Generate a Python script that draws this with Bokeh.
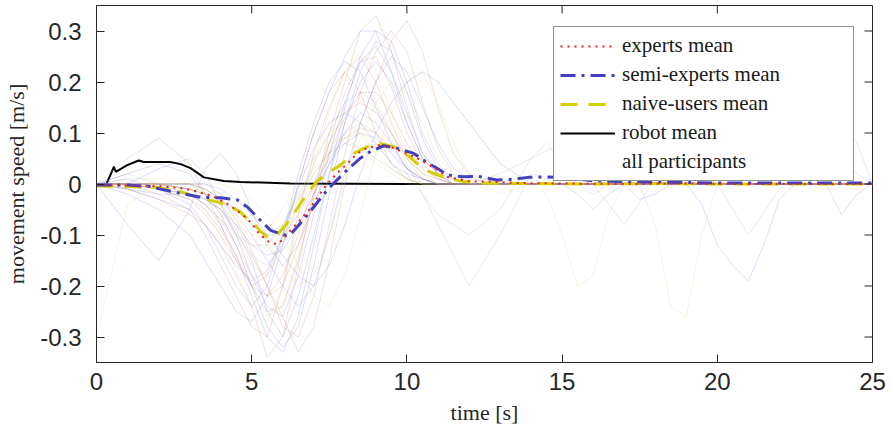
import math
from bokeh.plotting import figure
from bokeh.models import Range1d, FixedTicker, Legend, LegendItem
from bokeh.embed import file_html
from bokeh.resources import INLINE

# ---------------- data ----------------
x_ticks = [0, 5, 10, 15, 20, 25]
y_ticks = [-0.3, -0.2, -0.1, 0, 0.1, 0.2, 0.3]
y_tick_labels = ["-0.3", "-0.2", "-0.1", "0", "0.1", "0.2", "0.3"]

# experts mean
t_experts = [0, 1, 2, 2.7, 3.2, 3.75, 4.3, 4.7, 5.0, 5.2, 5.5, 5.8, 6.0, 6.25, 6.55,
             6.85, 7.1, 7.4, 7.75, 8.1, 8.4, 8.7, 9.1, 9.5, 10.0, 10.45, 10.9, 11.3,
             12.05, 12.7, 13.5, 15, 17, 19, 21, 23, 25]
v_experts = [-0.002, -0.003, -0.004, -0.008, -0.014, -0.024, -0.042, -0.060, -0.077,
             -0.094, -0.112, -0.118, -0.110, -0.091, -0.071, -0.051, -0.028, -0.002,
             0.021, 0.041, 0.060, 0.070, 0.076, 0.072, 0.060, 0.047, 0.031, 0.014,
             0.005, 0.005, 0.002, 0.001, 0, 0.001, 0, 0, 0]

# semi-experts mean
t_semi = [0, 1.0, 1.74, 2.06, 2.71, 3.35, 4.0, 4.53, 4.86, 5.28, 5.61, 6.03, 6.25,
          6.47, 6.79, 7.0, 7.43, 7.75, 8.08, 8.51, 8.83, 9.26, 9.69, 10.22, 10.65,
          11.0, 11.3, 11.8, 12.3, 12.9, 13.4, 13.9, 14.5, 15.2, 16, 18, 20, 22, 25]
v_semi = [-0.002, -0.002, -0.005, -0.010, -0.018, -0.026, -0.027, -0.031, -0.045,
          -0.071, -0.091, -0.100, -0.099, -0.084, -0.061, -0.045, -0.012, 0.008,
          0.028, 0.051, 0.064, 0.075, 0.070, 0.060, 0.042, 0.030, 0.018, 0.014,
          0.015, 0.008, 0.009, 0.013, 0.014, 0.012, 0.006, 0.004, 0.002, 0.002, 0.002]

# naive-users mean
t_naive = [0, 0.9, 1.96, 2.71, 3.35, 3.9, 4.32, 4.6, 4.86, 5.07, 5.25, 5.5, 5.82,
           6.14, 6.47, 6.79, 7.11, 7.43, 7.86, 8.29, 8.72, 9.15, 9.58, 10.01, 10.44,
           10.8, 11.3, 11.83, 12.5, 14, 16, 18, 20, 22, 25]
v_naive = [-0.004, -0.005, -0.007, -0.015, -0.028, -0.035, -0.045, -0.053, -0.068,
           -0.077, -0.091, -0.104, -0.100, -0.077, -0.048, -0.018, 0.005, 0.021,
           0.037, 0.060, 0.073, 0.079, 0.073, 0.057, 0.034, 0.022, 0.011, 0.005,
           0.002, 0.001, 0, 0.001, 0, 0, 0]

# robot mean
t_robot = [0, 0.32, 0.47, 0.56, 0.62, 0.99, 1.36, 1.52, 1.79, 2.38, 2.71, 3.03, 3.46,
           4.1, 4.64, 6.25, 10, 15, 20, 25]
v_robot = [0, 0, 0.021, 0.034, 0.024, 0.037, 0.046, 0.043, 0.043, 0.043, 0.039, 0.031,
           0.013, 0.006, 0.004, 0.001, 0, 0, 0, 0]

# individual participants (estimated), common time grid
t_part = [0, 1, 2, 3, 3.5, 4, 4.5, 5, 5.5, 6, 6.5, 7, 7.5, 8, 8.5, 9, 9.5, 10, 10.5,
          11, 11.5, 12, 13, 14, 15, 17, 19, 21, 23, 25]
p01 = [0, 0, -0.01, -0.03, -0.06, -0.10, -0.15, -0.20, -0.22, -0.18,
       -0.10, 0.00, 0.08, 0.14, 0.16, 0.14, 0.10, 0.05, 0.02, 0.01,
       0, 0, 0, 0, 0, 0, 0, 0, 0, 0]
p02 = [0, -0.01, -0.02, -0.02, -0.03, -0.05, -0.09, -0.15, -0.25, -0.30,
       -0.22, -0.10, 0.02, 0.12, 0.20, 0.24, 0.20, 0.12, 0.05, 0.02,
       0.01, 0, 0, 0, 0, 0, 0, 0, 0, 0]
p03 = [0, 0, 0, -0.01, -0.02, -0.05, -0.10, -0.16, -0.18, -0.12,
       -0.03, 0.05, 0.10, 0.12, 0.10, 0.06, 0.03, 0.01, 0, 0,
       0, 0, 0, 0, 0, 0, 0, 0, 0, 0]
p04 = [0, 0, -0.02, -0.05, -0.10, -0.16, -0.22, -0.28, -0.30, -0.20,
       -0.06, 0.06, 0.15, 0.22, 0.25, 0.20, 0.12, 0.05, 0.01, 0,
       0, 0, 0, 0, 0, 0, 0, 0, 0, 0]
p05 = [0, 0, 0, 0, -0.01, -0.03, -0.06, -0.10, -0.15, -0.20,
       -0.24, -0.20, -0.10, 0.02, 0.12, 0.20, 0.25, 0.22, 0.15, 0.08,
       0.03, 0.01, 0, 0, 0, 0, 0, 0, 0, 0]
p06 = [0, 0.02, 0.00, -0.02, -0.04, -0.07, -0.10, -0.12, -0.12, -0.08,
       -0.02, 0.03, 0.06, 0.08, 0.07, 0.05, 0.03, 0.01, 0, 0,
       0, 0, 0, 0, 0, 0, 0, 0, 0, 0]
p07 = [0, -0.02, -0.05, -0.10, -0.15, -0.20, -0.25, -0.27, -0.22, -0.12,
       0.00, 0.10, 0.18, 0.25, 0.30, 0.30, 0.22, 0.12, 0.05, 0.02,
       0, 0, 0, 0, 0, 0, 0, 0, 0, 0]
p08 = [0, 0, 0, -0.01, -0.02, -0.04, -0.08, -0.14, -0.20, -0.26,
       -0.33, -0.28, -0.15, 0.00, 0.12, 0.20, 0.28, 0.32, 0.26, 0.15,
       0.06, 0.02, 0, 0, 0, 0, 0, 0, 0, 0]
p09 = [0, 0.01, 0.01, 0, -0.02, -0.06, -0.12, -0.20, -0.26, -0.24,
       -0.14, -0.02, 0.08, 0.14, 0.17, 0.15, 0.10, 0.05, 0.02, 0,
       0, 0, 0, 0, 0, 0, 0, 0, 0, 0]
p10 = [0, 0, 0, -0.01, -0.03, -0.05, -0.08, -0.12, -0.14, -0.13,
       -0.08, -0.02, 0.04, 0.08, 0.10, 0.09, 0.06, 0.03, 0.01, 0,
       0, 0, 0, 0, 0, 0, 0, 0, 0, 0]
p11 = [0, -0.01, -0.03, -0.06, -0.08, -0.12, -0.18, -0.24, -0.34, -0.30,
       -0.16, -0.02, 0.10, 0.20, 0.30, 0.33, 0.26, 0.15, 0.06, 0.02,
       0, 0, 0, 0, 0, 0, 0, 0, 0, 0]
p12 = [0, 0, 0, 0, 0, -0.02, -0.05, -0.08, -0.10, -0.08,
       -0.03, 0.02, 0.06, 0.10, 0.12, 0.10, 0.06, 0.02, -0.02, -0.06,
       -0.08, -0.10, -0.05, 0.05, 0.08, -0.08, 0.10, -0.10, 0.08, 0]
p13 = [0, -0.08, -0.15, -0.05, 0.03, 0.06, 0.02, -0.05, -0.12, -0.16,
       -0.12, -0.04, 0.04, 0.10, 0.14, 0.12, 0.08, 0.03, 0, 0,
       0, 0, 0, 0, 0, 0, 0, 0, 0, 0]
p14 = [0, 0, 0, 0, 0, 0, -0.01, -0.03, -0.06, -0.10,
       -0.16, -0.22, -0.24, -0.18, -0.06, 0.06, 0.14, 0.20, 0.22, 0.16,
       0.08, 0.02, -0.02, 0, 0, 0, 0, 0, 0, 0]
p15 = [0, 0, -0.01, -0.02, -0.04, -0.08, -0.14, -0.22, -0.30, -0.33,
       -0.26, -0.12, 0.02, 0.15, 0.25, 0.30, 0.28, 0.20, 0.10, 0.04,
       0.01, 0, 0, 0, 0, 0, 0, 0, 0, 0]
p16 = [0, 0, 0, -0.01, -0.02, -0.03, -0.05, -0.08, -0.10, -0.10,
       -0.06, 0.00, 0.05, 0.09, 0.11, 0.10, 0.07, 0.03, 0.01, 0,
       0, 0, 0, 0, 0, 0, 0, 0, 0, 0]
p17 = [0, 0, 0, 0, -0.02, -0.05, -0.10, -0.14, -0.16, -0.12,
       -0.04, 0.04, 0.10, 0.16, 0.18, 0.16, 0.10, 0.04, -0.02, -0.08,
       -0.14, -0.20, -0.10, 0.02, 0, 0, 0, 0, 0, 0]
p18 = [-0.30, -0.04, 0, 0, -0.01, -0.03, -0.07, -0.11, -0.13, -0.10,
       -0.04, 0.02, 0.06, 0.09, 0.10, 0.08, 0.04, 0.01, 0, 0,
       0, 0, 0, 0, 0, 0, 0, 0, 0, 0]
p19 = [0, 0.05, 0.09, 0.04, -0.02, -0.08, -0.15, -0.20, -0.18, -0.10,
       0.00, 0.10, 0.18, 0.22, 0.18, 0.10, 0.04, 0.01, 0, 0,
       0, 0, 0, 0, 0, 0, 0, 0, 0, 0]
p20 = [0, 0, 0.03, 0.05, 0.02, -0.04, -0.10, -0.18, -0.24, -0.26,
       -0.18, -0.06, 0.06, 0.16, 0.24, 0.27, 0.22, 0.14, 0.06, 0.02,
       0, 0, 0, 0, 0, 0, 0, 0, 0, 0]
p21 = [0, 0, 0, 0, 0, -0.01, -0.03, -0.06, -0.10, -0.14,
       -0.18, -0.20, -0.16, -0.08, 0.02, 0.10, 0.16, 0.20, 0.22, 0.20,
       0.16, 0.12, 0.04, 0, 0, 0, 0, 0, 0, 0]
p22 = [0, 0, -0.01, -0.02, -0.04, -0.07, -0.12, -0.18, -0.22, -0.20,
       -0.12, -0.02, 0.06, 0.13, 0.18, 0.18, 0.14, 0.08, 0.03, 0.01,
       0, 0, 0, 0, 0, 0, 0, 0, 0, 0]
p23 = [0, 0, 0, -0.02, -0.05, -0.10, -0.17, -0.24, -0.27, -0.20,
       -0.08, 0.04, 0.14, 0.22, 0.26, 0.22, 0.14, 0.06, 0.02, 0,
       0, 0, 0, 0, 0, 0, 0, 0, 0, 0]
p24 = [0, -0.01, -0.03, -0.05, -0.08, -0.12, -0.16, -0.19, -0.17, -0.10,
       -0.01, 0.07, 0.12, 0.14, 0.12, 0.08, 0.04, 0.02, 0.01, 0,
       0, 0, 0, 0, 0, 0, 0, 0, 0, 0]
p25 = [0, 0, 0, 0, -0.01, -0.03, -0.07, -0.13, -0.20, -0.28,
       -0.30, -0.22, -0.08, 0.06, 0.18, 0.26, 0.30, 0.26, 0.16, 0.07,
       0.02, 0, 0, 0, 0, 0, 0, 0, 0, 0]
p26 = [0, 0.01, -0.01, -0.04, -0.08, -0.14, -0.20, -0.24, -0.20, -0.10,
       0.02, 0.12, 0.20, 0.24, 0.22, 0.15, 0.08, 0.03, 0.01, 0,
       0, 0, 0, 0, 0, 0, 0, 0, 0, 0]
p27 = [0, 0, 0, -0.01, -0.01, -0.02, -0.04, -0.07, -0.11, -0.16,
       -0.20, -0.18, -0.10, 0.00, 0.09, 0.16, 0.20, 0.18, 0.12, 0.05,
       0.02, 0, 0, 0, 0, 0, 0, 0, 0, 0]
p28 = [0, 0, -0.01, -0.03, -0.05, -0.09, -0.14, -0.20, -0.25, -0.24,
       -0.15, -0.03, 0.08, 0.18, 0.24, 0.25, 0.19, 0.10, 0.04, 0.01,
       0, 0, 0, 0, 0, 0, 0, 0, 0, 0]
p29 = [0, 0.02, 0.04, 0.02, -0.02, -0.06, -0.12, -0.20, -0.28, -0.32,
       -0.28, -0.16, -0.02, 0.12, 0.22, 0.28, 0.26, 0.18, 0.09, 0.03,
       0.01, 0, 0, 0, 0, 0, 0, 0, 0, 0]
p30 = [0, 0, -0.01, -0.02, -0.03, -0.05, -0.08, -0.10, -0.09, -0.05,
       0.01, 0.05, 0.08, 0.09, 0.07, 0.04, 0.02, 0, 0, 0,
       0, 0, 0, 0, 0, 0, 0, 0, 0, 0]
participants = [p01, p02, p03, p04, p05, p06, p07, p08, p09, p10,
                p11, p12, p13, p14, p15, p16, p17, p18, p19, p20,
                p21, p22, p23, p24, p25, p26, p27, p28, p29, p30]
participant_group = ["expert", "semi", "naive", "expert", "semi", "other", "semi",
                     "expert", "naive", "semi", "expert", "other", "semi", "naive",
                     "semi", "expert", "other", "naive", "expert", "semi", "semi",
                     "expert", "naive", "semi", "expert", "semi", "naive", "expert",
                     "semi", "naive"]

# late, slow participants (estimated)
t_late = [12, 13, 14, 14.5, 15, 15.5, 16, 16.5, 17, 17.5, 18, 18.5, 19, 19.5, 20,
          20.5, 21, 21.5, 22, 22.5, 23, 23.5, 24, 24.5, 25]
late1 = [0, 0, 0, -0.02, -0.10, -0.20, -0.18, -0.06, 0, 0, -0.08, -0.24, -0.26,
         -0.10, 0, 0, 0, 0, 0, 0, 0, 0, 0, 0, 0]
late2 = [0, 0, 0, 0, 0, -0.02, -0.05, -0.02, 0, -0.03, -0.02, 0, 0, -0.04, -0.12,
         -0.16, -0.19, -0.12, -0.03, 0, 0, 0, -0.06, -0.02, 0]
late3 = [0, 0.02, 0.05, 0.08, 0.04, 0, -0.02, 0, 0.04, 0.10, 0.16, 0.12, 0.04, 0, 0,
         0.02, 0.08, 0.14, 0.10, 0.03, 0, 0.05, 0.12, 0.08, 0]
late_lines = [late1, late2, late3]
late_group = ["naive", "semi", "other"]

# ---------------- style ----------------
axis_col = "#262626"
group_color = {"expert": "#c07868", "semi": "#7070e0", "naive": "#d8d070", "other": "#a8a8a8"}

p = figure(width=892, height=434, x_range=Range1d(0, 25), y_range=Range1d(-0.35, 0.35),
           output_backend="svg", toolbar_location=None,
           min_border_left=96, min_border_right=20, min_border_top=5, min_border_bottom=72)
p.background_fill_color = "white"
p.border_fill_color = "white"
p.outline_line_color = axis_col
p.outline_line_width = 1
p.outline_line_alpha = 1
p.grid.visible = False

# robot mean first (participants drawn over its zero part)
r_robot = p.line(t_robot, v_robot, line_color="black", line_width=2)

xs = [t_part for _ in participants] + [t_late for _ in late_lines]
ys = participants + late_lines
cols = [group_color[g] for g in participant_group] + [group_color[g] for g in late_group]
p.multi_line(xs=xs, ys=ys, line_color=cols, line_alpha=0.24, line_width=1)

r_naive = p.line(t_naive, v_naive, line_color="#d4cf00", line_width=3, line_dash="17 11")
r_semi = p.line(t_semi, v_semi, line_color="#4040c0", line_width=3, line_dash="15 6 3 6")
r_exp = p.line(t_experts, v_experts, line_color="#f01c1c", line_width=2, line_dash="2 5")
r_all = p.line(x=[], y=[], line_color="#e8e8e8", line_width=1.5)

# inward ticks on the top and right edges (box style)
p.ray(x=x_ticks, y=[0.35] * len(x_ticks), length=8, length_units="screen",
      angle=-math.pi / 2, line_color=axis_col, line_width=1)
p.ray(x=[25] * len(y_ticks), y=y_ticks, length=8, length_units="screen",
      angle=math.pi, line_color=axis_col, line_width=1)

def style_axis(ax):
    ax.axis_line_color = axis_col
    ax.axis_line_width = 1
    ax.major_tick_line_color = axis_col
    ax.major_tick_in = 8
    ax.major_tick_out = 0
    ax.minor_tick_line_color = None
    ax.major_label_text_font = "Liberation Sans"
    ax.major_label_text_font_size = "24px"
    ax.major_label_text_color = axis_col
    ax.axis_label_text_font = "Liberation Serif"
    ax.axis_label_text_font_size = "22px"
    ax.axis_label_text_font_style = "normal"
    ax.axis_label_text_color = axis_col

xa = p.xaxis[0]
xa.ticker = FixedTicker(ticks=x_ticks)
style_axis(xa)
xa.axis_label = "time [s]"
xa.major_label_standoff = 10
xa.axis_label_standoff = 7

ya = p.yaxis[0]
ya.ticker = FixedTicker(ticks=y_ticks)
ya.major_label_overrides = {t: s for t, s in zip(y_ticks, y_tick_labels)}
style_axis(ya)
ya.axis_label = "movement speed [m/s]"
ya.major_label_standoff = 15
ya.axis_label_standoff = 8

legend = Legend(items=[
    LegendItem(label="experts mean", renderers=[r_exp]),
    LegendItem(label="semi-experts mean", renderers=[r_semi]),
    LegendItem(label="naive-users mean", renderers=[r_naive]),
    LegendItem(label="robot mean", renderers=[r_robot]),
    LegendItem(label="all participants", renderers=[r_all]),
], location=(457, 181))
legend.border_line_color = axis_col
legend.border_line_width = 1
legend.background_fill_color = "white"
legend.background_fill_alpha = 1
legend.label_text_font = "Liberation Serif"
legend.label_text_font_size = "21px"
legend.label_text_color = "#1a1a1a"
legend.glyph_width = 55
legend.glyph_height = 24
legend.label_standoff = 7
legend.padding = 6
legend.spacing = 4
legend.margin = 0
legend.label_width = 225
p.add_layout(legend)

open("out.html", "w").write(file_html(p, INLINE))
